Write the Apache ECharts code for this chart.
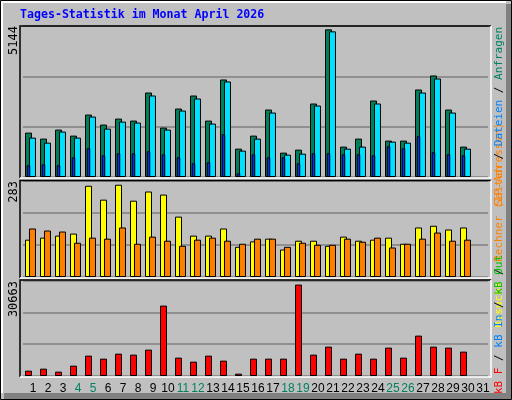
<!DOCTYPE html>
<html><head><meta charset="utf-8">
<script src="https://cdn.jsdelivr.net/npm/echarts@6/dist/echarts.min.js"></script>
<style>html,body{margin:0;padding:0;background:#c0c0c0}#c{width:512px;height:400px}</style>
</head><body><div id="c"></div>
<script>
const days = ['1','2','3','4','5','6','7','8','9','10','11','12','13','14','15','16','17','18','19','20','21','22','23','24','25','26','27','28','29','30','31'];
const weekend = ['4','5','11','12','18','19','25','26'];
const hits  = [1512,1308,1615,1410,2127,1786,1990,1922,2878,1683,2332,2776,1922,3322,966,1410,2298,830,932,2503,5030,1035,1308,2605,1240,1240,2981,3458,2298,1035,null];
const files = [1342,1171,1547,1342,2059,1649,1888,1854,2776,1615,2264,2674,1820,3254,898,1308,2196,762,796,2435,4961,966,1035,2503,1206,1171,2878,3356,2196,966,null];
const pages = [400,433,400,672,980,740,808,808,877,774,672,467,501,1457,126,774,672,672,467,808,808,774,774,740,1047,980,1389,843,774,740,null];
const visits= [110,116,122,128,269,228,272,225,252,243,178,122,122,143,89,105,113,81,107,107,92,119,107,110,116,98,146,151,140,146,null];
const sites = [143,137,134,101,116,113,146,98,119,107,92,110,116,107,98,113,113,89,101,95,95,113,104,116,87,98,113,131,107,110,null];
const kbytes= [1715,2357,1393,3321,6535,5571,7178,6857,8464,22606,5892,4607,6535,4928,750,5571,5571,5571,29350,6857,9428,5571,7178,5571,9107,5892,12964,9428,9107,7821,null];
const maxTop = 5144, maxMid = 283, maxBot = 30663;

const F = 'DejaVu Sans Mono';
const LF = 'Liberation Sans';
const grids = [
  {left:23,right:24,top:26,height:151},
  {left:23,right:24,top:181,height:96},
  {left:23,right:24,top:280.5,height:95.5}
];
function xa(g, labels){
  return {type:'category',data:days,gridIndex:g,axisLine:{show:false},axisTick:{show:false},
    axisLabel: labels ? {show:true,interval:0,margin:7,padding:[0,0,0,5],fontFamily:LF,fontSize:12,
      formatter:v=> weekend.includes(v)?'{w|'+v+'}':'{n|'+v+'}',
      rich:{w:{color:'#008060',fontFamily:LF,fontSize:12},n:{color:'#000',fontFamily:LF,fontSize:12}}} : {show:false}};
}
function ya(g,max){
  return {type:'value',gridIndex:g,min:0,max:max,interval:max/3,axisLabel:{show:false},axisLine:{show:false},axisTick:{show:false},
    splitLine:{show:true,lineStyle:{color:'#808080',width:1.5}}};
}
function ya2(g,max){ return {type:'value',gridIndex:g,min:0,max:max,show:false,splitLine:{show:false}}; }
const bs = {borderColor:'#000',borderWidth:1};
function bar(name,x,y,data,color,w,gap){
  const s={type:'bar',name:name,xAxisIndex:x,yAxisIndex:y,data:data,barWidth:w,itemStyle:Object.assign({color:color},bs),animation:false,silent:true};
  if(gap!==undefined) s.barGap=gap;
  return s;
}
function dummy(x,y,w){ return {type:'bar',xAxisIndex:x,yAxisIndex:y,data:days.map(()=>null),barWidth:w,barGap:0,animation:false,silent:true}; }

function rtext(x,y,align,parts,size){
  return {type:'text',x:x,y:y,rotation:Math.PI/2,z:100,
    style:{text:parts.map((p,i)=>'{s'+i+'|'+p[0]+'}').join(''),align:align,verticalAlign:'middle',
      font:size+'px "'+F+'"',
      rich:Object.fromEntries(parts.map((p,i)=>['s'+i,{fill:p[1],font:size+'px "'+F+'"'}]))}};
}
function panel(x1,y1,x2,y2){
  return [
    {type:'polyline',shape:{points:[[x1,y2],[x1,y1],[x2,y1]]},style:{stroke:'#000',lineWidth:1.5,fill:null},z:50},
    {type:'polyline',shape:{points:[[x2,y1],[x2,y2],[x1,y2]]},style:{stroke:'#fff',lineWidth:1.5,fill:null},z:50}
  ];
}
const graphic = [
  {type:'rect',shape:{x:506,y:4,width:5,height:396},style:{fill:'#808080'},z:1},
  {type:'rect',shape:{x:4,y:393,width:508,height:6},style:{fill:'#808080'},z:1},
  {type:'rect',shape:{x:0.5,y:0.5,width:511,height:399},style:{fill:null,stroke:'#000',lineWidth:1},z:2},
  {type:'polyline',shape:{points:[[2,393],[2,2],[506,2]]},style:{stroke:'#fff',lineWidth:2,fill:null},z:2},
  {type:'text',x:20,y:9,style:{text:'Tages-Statistik im Monat April 2026',fill:'#0000ff',font:'bold 11.6px "'+F+'"'},z:10},
  ...panel(20,26,491,178), ...panel(20,180.5,491,278), ...panel(20,280,491,377),
  rtext(14,26,'right',[['5144','#000']],12),
  rtext(14,181,'right',[['283','#000']],12),
  rtext(14,281,'right',[['30663','#000']],12),
  rtext(499,328,'left',[['Besuche','#ffff00'],[' / ','#000'],['Rechner (IP-Adressen)','#ff8000']],11),
  rtext(499,394,'left',[['kB F','#ff0000'],[' / ','#000'],['kB In','#0080ff'],[' / ','#000'],['kB Out','#00c000']],11),
  rtext(499,27,'right',[['Seiten','#ff8000'],[' / ','#000'],['Dateien','#0080ff'],[' / ','#000'],['Anfragen','#008060']],11)
];
const chart = echarts.init(document.getElementById('c'));
chart.setOption({
  backgroundColor:'#c0c0c0', animation:false,
  grid:grids,
  xAxis:[xa(0),xa(0),xa(1),xa(2,true),xa(2)],
  yAxis:[ya(0,maxTop),ya2(0,maxTop),ya(1,maxMid),ya(2,maxBot),ya2(2,maxBot)],
  series:[
    bar('Anfragen',0,0,hits,'#00805a',7),
    bar('Dateien',0,0,files,'#00e0ff',7,'-43%'),
    bar('Seiten',1,1,pages,'#0030ff',3.5),
    dummy(1,1,4),
    bar('Besuche',2,2,visits,'#ffff00',7),
    bar('Rechner',2,2,sites,'#ff8000',7,'-43%'),
    bar('kB F',4,4,kbytes,'#ff0000',7),
    dummy(4,4,4)
  ],
  graphic:graphic
});
</script></body></html>
